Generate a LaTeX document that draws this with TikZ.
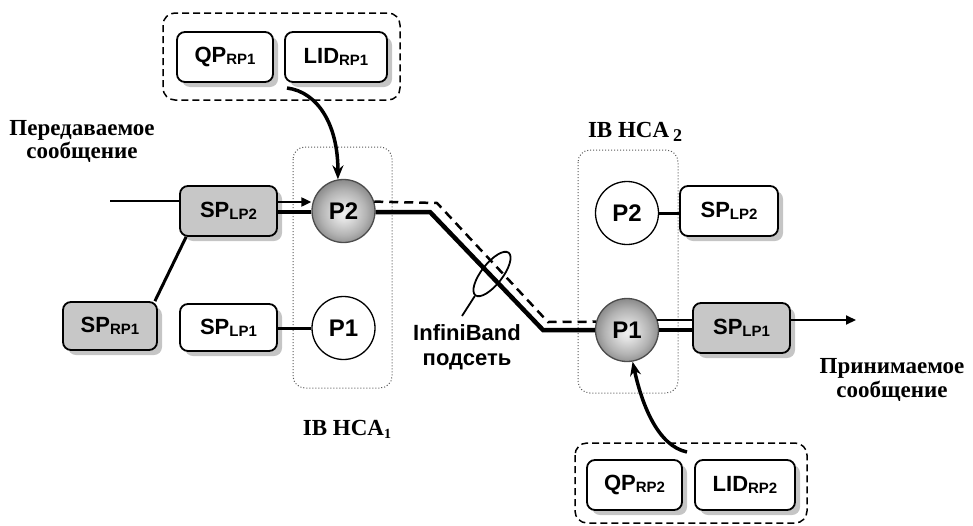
\documentclass[tikz,border=0pt]{standalone}
\usepackage{fontspec}
\setmainfont{Liberation Serif}
\setsansfont{Liberation Sans}
\usetikzlibrary{shapes.geometric,shadows,arrows.meta}
% sphere-like fill for the active ports
\pgfdeclareradialshading{sphere}{\pgfpoint{0bp}{-2bp}}{color(0bp)=(black!6); color(6bp)=(black!12); color(18bp)=(black!30); color(27bp)=(black!48); color(50bp)=(black!48)}
% label with a lowered index, e.g. SP with LP2
\newcommand\lbl[2]{#1\raisebox{-2pt}{\fontsize{15}{15}\selectfont #2}}

\begin{document}
\begin{tikzpicture}[x=1pt,y=-1pt,
  every node/.style={inner sep=0pt},
  boxbase/.style={draw, line width=1.8pt, rounded corners=8pt,
    minimum height=50pt,
    font=\sffamily\bfseries\fontsize{22}{22}\selectfont,
    drop shadow={shadow xshift=5pt, shadow yshift=-5pt, fill=black!45}},
  wbox/.style={boxbase, fill=white},
  gbox/.style={boxbase, fill=black!22},
  port/.style={circle, draw, line width=1.3pt, minimum size=63pt, fill=white,
    font=\sffamily\bfseries\fontsize{24}{24}\selectfont},
  gport/.style={port, draw=black!70, shading=sphere},
  hcaframe/.style={draw=black!65, dotted, line width=1pt, rounded corners=12pt},
  keyframe/.style={draw, dashed, dash pattern=on 7pt off 4pt, line width=1.5pt, rounded corners=12pt},
  thinline/.style={line width=2pt},
  thickline/.style={line width=4.5pt},
  route/.style={line width=2.5pt, dash pattern=on 9pt off 6pt},
  lookup/.style={line width=3.5pt, -{Stealth[length=14pt,width=11pt]}},
  arrowtip/.style={-{Triangle[length=10pt,width=9pt]}},
  serif/.style={font=\bfseries\fontsize{23}{25}\selectfont, anchor=base},
  sans/.style={font=\sffamily\bfseries\fontsize{22}{24}\selectfont, anchor=base}
]
\useasboundingbox (0,0) rectangle (973,525);

% host channel adapters and key groups
\draw[hcaframe] (293,147) rectangle (392,388);
\draw[hcaframe] (578,150) rectangle (678,393);
\draw[keyframe] (163,13) rectangle (400,100);
\draw[keyframe] (575,443) rectangle (807,523);

% remote keys
\node[wbox, minimum width=96pt]  (qp1)  at (225,57)    {\lbl{QP}{RP1}};
\node[wbox, minimum width=102pt] (lid1) at (336,57)    {\lbl{LID}{RP1}};
\node[wbox, minimum width=95pt]  (qp2)  at (634.5,485) {\lbl{QP}{RP2}};
\node[wbox, minimum width=100pt] (lid2) at (745,485)   {\lbl{LID}{RP2}};

% adapter 1
\node[gbox, minimum width=97pt] (splp2a) at (228.5,211) {\lbl{SP}{LP2}};
\node[gbox, minimum width=94pt, minimum height=48pt] (sprp1) at (110,326) {\lbl{SP}{RP1}};
\node[wbox, minimum width=97pt, minimum height=47pt] (splp1a) at (228.5,327.5) {\lbl{SP}{LP1}};
\node[gport] (p2a) at (343.5,211) {P2};
\node[port]  (p1a) at (343.5,328) {P1};

% adapter 2
\node[port]  (p2b) at (627,213) {P2};
\node[gport] (p1b) at (627,330) {P1};
\node[wbox, minimum width=98pt] (splp2b) at (729,211) {\lbl{SP}{LP2}};
\node[gbox, minimum width=97pt] (splp1b) at (741.5,328) {\lbl{SP}{LP1}};

% path through the subnet
\coordinate (s1) at (430,212);
\coordinate (s2) at (543,330);
\coordinate (d1) at (437,203);
\coordinate (d2) at (548,322);
\draw[thickline, line join=miter] (p2a.east |- s1) -- (s1) -- (s2) -- (p1b.west |- s2);
\draw[route] (p2a.17) -- (d1) -- (d2) -- (p1b.165);

% subnet marker
\node[draw, ellipse, line width=1.8pt, minimum width=54pt, minimum height=21pt, rotate=52] (ring) at (492,274) {};
\coordinate (ringend) at (462,316);
\draw[line width=1.8pt] (ring.west) -- (ringend);
\node[sans] (ib1) at (467,340) {InfiniBand};
\node[sans] (ib2) at (467,365) {подсеть};

% sending side
\coordinate (msgin) at (110,201);
\draw[thinline] (msgin) -- (msgin -| splp2a.west);
\draw[thinline, arrowtip] ([yshift=9pt]splp2a.east) -- ([yshift=9pt]splp2a.east -| p2a.west);
\draw[thickline] (splp2a.east |- s1) -- (p2a.west |- s1);
\draw[line width=3pt] ([xshift=-3pt]sprp1.north east) -- ([xshift=7pt]splp2a.south west);
\draw[line width=3pt] (splp1a.east |- p1a) -- (p1a.west);

% receiving side
\draw[line width=3pt] (p2b.east) -- (p2b.east -| splp2b.west);
\draw[thinline] (p1b.19) -- (p1b.19 -| splp1b.west);
\draw[thickline] (p1b.east) -- (p1b.east -| splp1b.west);
\coordinate (msgout) at (856,320);
\draw[thinline, arrowtip] (splp1b.east |- msgout) -- (msgout);

% key lookups
\coordinate (k1) at (287,88);
\coordinate (k2) at (687,452);
\draw[lookup] (k1) .. controls (318,92) and (338,125) .. (p2a.100);
\draw[lookup] (k2) .. controls (658,446) and (642,405) .. (p1b.-80);

% captions
\node[serif] (in1) at (82,135) {Передаваемое};
\node[serif] (in2) at (82,158) {сообщение};
\node[serif] (out1) at (892,373) {Принимаемое};
\node[serif] (out2) at (892,397) {сообщение};
\node[serif] (hca1) at (347,435) {IB HCA\raisebox{-3pt}{\fontsize{14}{14}\selectfont 1}};
\node[serif] (hca2) at (635,137) {IB HCA\,\raisebox{-4pt}{\fontsize{18}{18}\selectfont 2}};
\end{tikzpicture}
\end{document}
